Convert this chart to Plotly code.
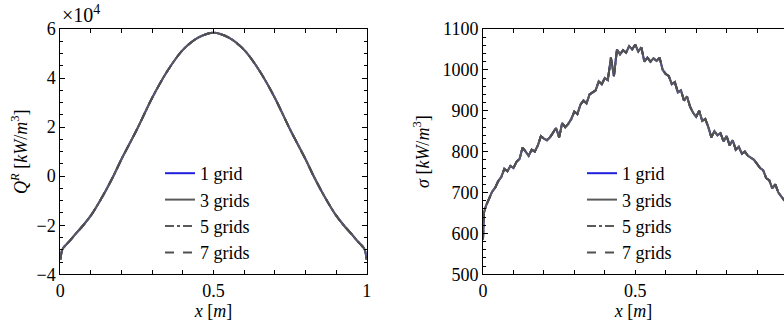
import plotly.graph_objects as go

# ---------------- data ----------------
X_Q = [0.0, 0.005, 0.01, 0.02, 0.03, 0.05, 0.075, 0.1, 0.125, 0.15, 0.175, 0.2, 0.25, 0.3, 0.35, 0.4, 0.45, 0.5,
       0.55, 0.6, 0.65, 0.7, 0.75, 0.8, 0.825, 0.85, 0.875, 0.9, 0.925, 0.95, 0.97, 0.98, 0.99, 0.995, 1.0]
Q_R = [-3.4, -3.05, -2.92, -2.78, -2.65, -2.35, -2.0, -1.6, -1.1, -0.55, 0.05, 0.7, 1.9, 3.2, 4.3, 5.15, 5.65, 5.85,
       5.65, 5.15, 4.3, 3.2, 1.9, 0.7, 0.05, -0.55, -1.1, -1.6, -2.0, -2.35, -2.65, -2.78, -2.92, -3.05, -3.4]  # x1e4

X_S = [0.0, 0.003] + [i / 100 for i in range(1, 100)]
SIGMA = [585, 650,
         668, 685, 702, 712, 728, 738, 758, 752, 765, 760,
         775, 782, 810, 800, 790, 805, 800, 815, 838, 832,
         828, 835, 845, 858, 835, 870, 860, 868, 880, 898,
         892, 915, 925, 918, 940, 945, 950, 972, 965, 980,
         975, 1030, 985, 1050, 1038, 1048, 1042, 1058, 1050, 1062,
         1045, 1055, 1020, 1030, 1020, 1028, 1022, 1030, 1000, 990,
         985, 965, 970, 945, 950, 925, 935, 910, 895, 885,
         900, 875, 880, 860, 835, 850, 840, 845, 825, 838,
         815, 828, 805, 812, 795, 800, 790, 785, 780, 770,
         760, 755, 735, 730, 710, 720, 700, 690, 680]

SERIES = ["1 grid", "3 grids", "5 grids", "7 grids"]
COLORS = ["#1f1fe0", "#5a5a5a", "#5a5a5a", "#505050"]
DASHES = ["solid", "solid", "dashdot", "dash"]

# ---------------- figure ----------------
W, H = 784, 332
FONT = "Liberation Serif"
fig = go.Figure()

for name, col, dash in zip(SERIES, COLORS, DASHES):
    fig.add_trace(go.Scatter(x=X_Q, y=Q_R, mode="lines", name=name, line=dict(color=col, dash=dash, width=2, shape="spline", smoothing=0.8),
                             xaxis="x", yaxis="y", legend="legend"))
for name, col, dash in zip(SERIES, COLORS, DASHES):
    fig.add_trace(go.Scatter(x=X_S, y=SIGMA, mode="lines", name=name, line=dict(color=col, dash=dash, width=2),
                             xaxis="x2", yaxis="y2", legend="legend2"))

ytop = 1 - 29 / H
ybot = 1 - 274.3 / H
x1d = [60.3 / W, 366.7 / W]
x2d = [483 / W, 1.0]
x2_end = (W - 483) / 304.5

tick_font = dict(family=FONT, size=18, color="black")
title_font = dict(family=FONT, size=18, color="black")
xt_vals = [i / 10 for i in range(11)]
xt_text = ["0", "", "", "", "", "0.5", "", "", "", "", "1"]

common_x = dict(tickmode="array", tickvals=xt_vals, ticktext=xt_text, ticks="inside", ticklen=4,
                showline=True, linecolor="black", linewidth=1, mirror="ticks", showgrid=False, zeroline=False,
                tickfont=tick_font, automargin=False, tickcolor="black")

fig.update_layout(
    width=W, height=H, margin=dict(l=0, r=0, t=0, b=0),
    paper_bgcolor="white", plot_bgcolor="white",
    font=dict(family=FONT, size=18, color="black"),
    xaxis=dict(domain=x1d, range=[0, 1], anchor="y",
               title=dict(text="<i>x</i> [<i>m</i>]", font=title_font, standoff=2), **common_x),
    yaxis=dict(domain=[ybot, ytop], range=[-4, 6], dtick=2, anchor="x", ticks="inside", ticklen=5,
               minor=dict(dtick=0.5, ticks="inside", ticklen=3, tickcolor="black"),
               showline=True, linecolor="black", linewidth=1, mirror="ticks", showgrid=False, zeroline=False,
               tickfont=tick_font, automargin=False, tickcolor="black",
               title=dict(text="<i>Q<sup>R</sup></i> [<i>kW</i>/<i>m</i><sup>3</sup>]", font=title_font, standoff=4)),
    xaxis2=dict(domain=x2d, range=[0, x2_end], anchor="y2",
                title=dict(text="<i>x</i> [<i>m</i>]", font=title_font, standoff=2), **common_x),
    yaxis2=dict(domain=[ybot, ytop], range=[500, 1100], dtick=100, anchor="x2", ticks="inside", ticklen=5,
                minor=dict(dtick=20, ticks="inside", ticklen=3, tickcolor="black"),
                showline=True, linecolor="black", linewidth=1, mirror=False, showgrid=False, zeroline=False,
                tickfont=tick_font, automargin=False, tickcolor="black",
                title=dict(text="<i>σ</i> [<i>kW</i>/<i>m</i><sup>3</sup>]", font=title_font, standoff=8)),
    yaxis3=dict(domain=[ybot, ytop], range=[500, 1100], dtick=100, overlaying="y2", side="right", anchor="free",
                position=1.0, ticks="inside", ticklen=5, showticklabels=False, showline=False, showgrid=False,
                zeroline=False, tickcolor="black",
                minor=dict(dtick=20, ticks="inside", ticklen=3, tickcolor="black")),
    legend=dict(x=(200 - 40) / W, y=1 - 155 / H, xanchor="left", yanchor="top", bgcolor="rgba(0,0,0,0)",
                font=dict(family=FONT, size=18, color="black"), tracegroupgap=0, itemwidth=30),
    legend2=dict(x=(622 - 40) / W, y=1 - 155 / H, xanchor="left", yanchor="top", bgcolor="rgba(0,0,0,0)",
                 font=dict(family=FONT, size=18, color="black"), tracegroupgap=0, itemwidth=30),
    annotations=[dict(text="×10<sup>4</sup>", xref="paper", yref="paper", x=60 / W, y=1 - 28 / H,
                      xanchor="left", yanchor="bottom", showarrow=False,
                      font=dict(family=FONT, size=20, color="black"))],
)

fig.write_html("out.html")
